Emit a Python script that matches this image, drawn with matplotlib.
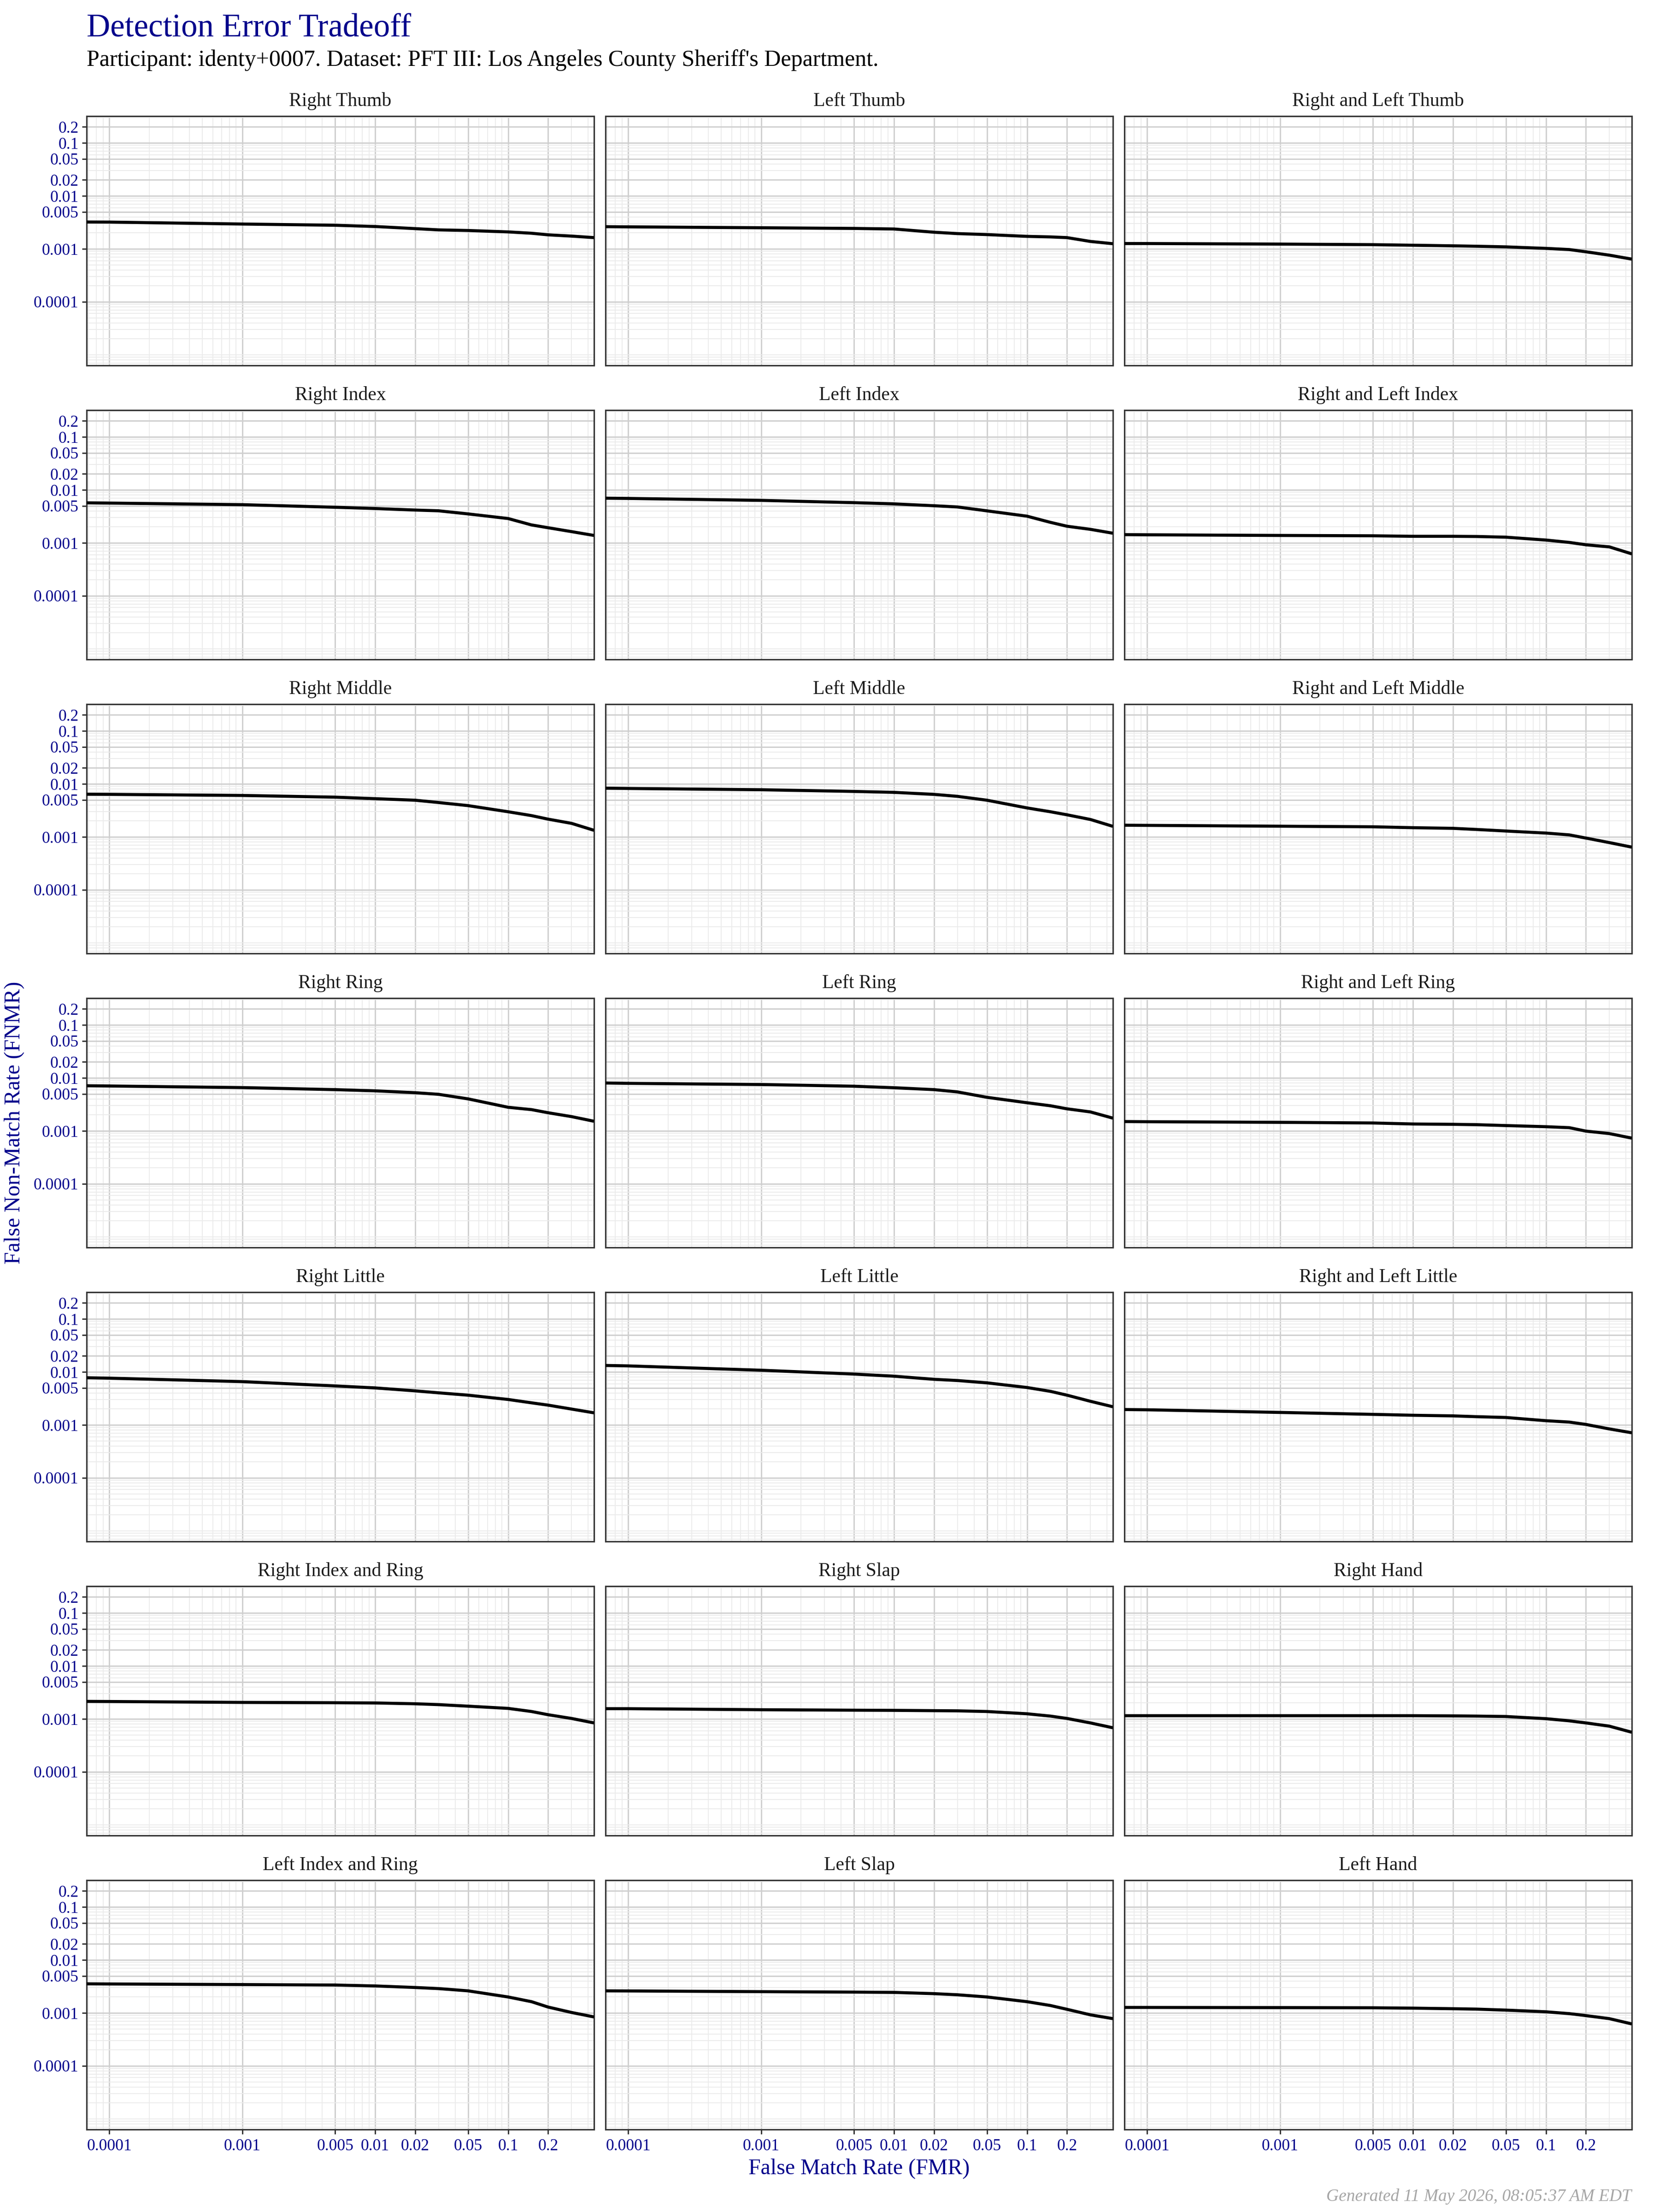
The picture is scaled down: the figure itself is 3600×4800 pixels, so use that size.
import matplotlib
matplotlib.use('Agg')
import matplotlib.pyplot as plt
from matplotlib.ticker import FixedLocator, NullFormatter

plt.rcParams['font.family'] = ['Liberation Serif', 'DejaVu Serif']

# ---------------- data ----------------
FMR = [6.76e-5, 1e-4, 1e-3, 5e-3, 0.01, 0.02, 0.03, 0.05, 0.1, 0.15, 0.2, 0.3, 0.443]

panel_titles = [
    "Right Thumb", "Left Thumb", "Right and Left Thumb",
    "Right Index", "Left Index", "Right and Left Index",
    "Right Middle", "Left Middle", "Right and Left Middle",
    "Right Ring", "Left Ring", "Right and Left Ring",
    "Right Little", "Left Little", "Right and Left Little",
    "Right Index and Ring", "Right Slap", "Right Hand",
    "Left Index and Ring", "Left Slap", "Left Hand",
]

fnmr_right_thumb = [0.00321, 0.00320, 0.00294, 0.00279, 0.00264, 0.00241, 0.00228, 0.00222, 0.00209, 0.00197, 0.00184, 0.00174, 0.00163]
fnmr_left_thumb = [0.00262, 0.00260, 0.00250, 0.00243, 0.00237, 0.00206, 0.00194, 0.00186, 0.00172, 0.00168, 0.00163, 0.00138, 0.00125]
fnmr_rl_thumb = [0.00126, 0.00126, 0.00123, 0.00120, 0.00117, 0.00114, 0.00112, 0.00109, 0.00102, 0.00097, 0.00088, 0.00076, 0.00064]
fnmr_right_index = [0.00570, 0.00563, 0.00526, 0.00470, 0.00445, 0.00416, 0.00403, 0.00352, 0.00288, 0.00218, 0.00193, 0.00163, 0.00138]
fnmr_left_index = [0.00697, 0.00690, 0.00634, 0.00574, 0.00544, 0.00502, 0.00476, 0.00402, 0.00319, 0.00244, 0.00206, 0.00180, 0.00152]
fnmr_rl_index = [0.00143, 0.00142, 0.00138, 0.00136, 0.00133, 0.00133, 0.00132, 0.00128, 0.00113, 0.00102, 0.00092, 0.00084, 0.00062]
fnmr_right_middle = [0.00638, 0.00635, 0.00605, 0.00562, 0.00526, 0.00492, 0.00445, 0.00389, 0.00298, 0.00252, 0.00216, 0.00180, 0.00133]
fnmr_left_middle = [0.00830, 0.00820, 0.00776, 0.00721, 0.00692, 0.00634, 0.00582, 0.00492, 0.00352, 0.00298, 0.00261, 0.00213, 0.00158]
fnmr_rl_middle = [0.00166, 0.00165, 0.00159, 0.00155, 0.00149, 0.00145, 0.00138, 0.00129, 0.00118, 0.00109, 0.00095, 0.00078, 0.00064]
fnmr_right_ring = [0.00711, 0.00704, 0.00656, 0.00601, 0.00570, 0.00526, 0.00490, 0.00402, 0.00279, 0.00252, 0.00220, 0.00186, 0.00152]
fnmr_left_ring = [0.00802, 0.00790, 0.00750, 0.00697, 0.00652, 0.00601, 0.00544, 0.00430, 0.00340, 0.00298, 0.00261, 0.00228, 0.00174]
fnmr_rl_ring = [0.00150, 0.00149, 0.00145, 0.00141, 0.00135, 0.00133, 0.00131, 0.00126, 0.00120, 0.00115, 0.00099, 0.00089, 0.00073]
fnmr_right_little = [0.00776, 0.00762, 0.00656, 0.00544, 0.00499, 0.00439, 0.00403, 0.00364, 0.00302, 0.00261, 0.00236, 0.00199, 0.00169]
fnmr_left_little = [0.01324, 0.01300, 0.01076, 0.00910, 0.00830, 0.00725, 0.00688, 0.00622, 0.00508, 0.00430, 0.00364, 0.00279, 0.00220]
fnmr_rl_little = [0.00195, 0.00193, 0.00172, 0.00158, 0.00152, 0.00148, 0.00143, 0.00138, 0.00120, 0.00113, 0.00102, 0.00084, 0.00071]
fnmr_right_index_ring = [0.00214, 0.00213, 0.00205, 0.00202, 0.00200, 0.00193, 0.00186, 0.00174, 0.00158, 0.00138, 0.00120, 0.00102, 0.00084]
fnmr_right_slap = [0.00156, 0.00156, 0.00149, 0.00146, 0.00145, 0.00143, 0.00142, 0.00138, 0.00125, 0.00113, 0.00102, 0.00084, 0.00068]
fnmr_right_hand = [0.00115, 0.00115, 0.00115, 0.00115, 0.00115, 0.00114, 0.00113, 0.00111, 0.00101, 0.00092, 0.00084, 0.00073, 0.00056]
fnmr_left_index_ring = [0.00354, 0.00352, 0.00343, 0.00336, 0.00323, 0.00302, 0.00288, 0.00261, 0.00200, 0.00163, 0.00129, 0.00102, 0.00084]
fnmr_left_slap = [0.00261, 0.00260, 0.00252, 0.00247, 0.00244, 0.00231, 0.00220, 0.00200, 0.00163, 0.00138, 0.00117, 0.00092, 0.00078]
fnmr_left_hand = [0.00127, 0.00127, 0.00126, 0.00125, 0.00123, 0.00120, 0.00118, 0.00113, 0.00105, 0.00097, 0.00089, 0.00078, 0.00062]

panel_series = [
    fnmr_right_thumb, fnmr_left_thumb, fnmr_rl_thumb,
    fnmr_right_index, fnmr_left_index, fnmr_rl_index,
    fnmr_right_middle, fnmr_left_middle, fnmr_rl_middle,
    fnmr_right_ring, fnmr_left_ring, fnmr_rl_ring,
    fnmr_right_little, fnmr_left_little, fnmr_rl_little,
    fnmr_right_index_ring, fnmr_right_slap, fnmr_right_hand,
    fnmr_left_index_ring, fnmr_left_slap, fnmr_left_hand,
]

x_breaks = [1e-4, 1e-3, 5e-3, 1e-2, 2e-2, 5e-2, 0.1, 0.2]
x_labels = ['0.0001', '0.001', '0.005', '0.01', '0.02', '0.05', '0.1', '0.2']
y_breaks = [1e-4, 1e-3, 5e-3, 1e-2, 2e-2, 5e-2, 0.1, 0.2]
y_labels = ['0.0001', '0.001', '0.005', '0.01', '0.02', '0.05', '0.1', '0.2']

# ---------------- layout ----------------
W, H, DPI = 3600, 4800, 300
fig = plt.figure(figsize=(W / DPI, H / DPI), dpi=DPI)
fig.patch.set_facecolor('white')

col_left = [188, 1314, 2440]
panel_w = 1101
row_top0 = 252
row_pitch = 638
panel_h = 541
XLIM = (6.76e-5, 0.443)
YLIM = (6.3e-6, 0.32)

DARKBLUE = '#00008B'
GRID_MAJ = '#cfcfcf'
GRID_MIN = '#ebebeb'
BORDER = '#333333'


def fx(px):
    return px / W


def fy(py):
    return 1 - py / H


minor_all = [n * 10.0 ** k for k in range(-6, 1) for n in range(1, 10)]
minor_x = [v for v in minor_all if all(abs(v - b) / b > 1e-6 for b in x_breaks)]
minor_y = [v for v in minor_all if all(abs(v - b) / b > 1e-6 for b in y_breaks)]

for i, (title, series) in enumerate(zip(panel_titles, panel_series)):
    r, c = divmod(i, 3)
    left = col_left[c]
    top = row_top0 + r * row_pitch
    ax = fig.add_axes([fx(left), fy(top + panel_h), panel_w / W, panel_h / H])
    ax.set_xscale('log')
    ax.set_yscale('log')
    ax.set_xlim(*XLIM)
    ax.set_ylim(*YLIM)
    ax.set_axisbelow(True)

    ax.xaxis.set_major_locator(FixedLocator(x_breaks))
    ax.yaxis.set_major_locator(FixedLocator(y_breaks))
    ax.xaxis.set_minor_locator(FixedLocator(minor_x))
    ax.yaxis.set_minor_locator(FixedLocator(minor_y))
    ax.xaxis.set_minor_formatter(NullFormatter())
    ax.yaxis.set_minor_formatter(NullFormatter())

    ax.grid(which='minor', color=GRID_MIN, lw=0.45)
    ax.grid(which='major', color=GRID_MAJ, lw=0.7)
    ax.tick_params(which='minor', length=0)

    if c == 0:
        ax.set_yticklabels(y_labels)
        ax.tick_params(axis='y', which='major', length=2.4, width=0.7, color=BORDER,
                       labelcolor=DARKBLUE, labelsize=8.5, pad=1.8)
    else:
        ax.tick_params(axis='y', which='major', length=0, labelleft=False)
    if r == 6:
        ax.set_xticklabels(x_labels)
        ax.tick_params(axis='x', which='major', length=2.4, width=0.7, color=BORDER,
                       labelcolor=DARKBLUE, labelsize=8.5, pad=2.5)
    else:
        ax.tick_params(axis='x', which='major', length=0, labelbottom=False)

    for sp in ax.spines.values():
        sp.set_color(BORDER)
        sp.set_linewidth(0.75)

    ax.plot(FMR, series, color='black', lw=1.6, solid_capstyle='butt', zorder=3)

    fig.text(fx(left + panel_w / 2), fy(top - 22), title, ha='center', va='baseline',
             fontsize=10, color='#1a1a1a')

# ---------------- titles ----------------
fig.text(fx(188), fy(80), "Detection Error Tradeoff", ha='left', va='baseline',
         fontsize=17, color=DARKBLUE)
fig.text(fx(188), fy(143), "Participant: identy+0007. Dataset: PFT III: Los Angeles County Sheriff's Department.",
         ha='left', va='baseline', fontsize=12, color='black')
fig.text(fx(1864), fy(4718), "False Match Rate (FMR)", ha='center', va='baseline',
         fontsize=11.5, color=DARKBLUE)
fig.text(fx(43), fy(2436), "False Non-Match Rate (FNMR)", ha='center', va='baseline',
         rotation=90, rotation_mode='anchor', fontsize=11.5, color=DARKBLUE)
fig.text(fx(3540), fy(4767), "Generated 11 May 2026, 08:05:37 AM EDT", ha='right', va='center',
         fontsize=9, color='#a6a6a6', style='italic')

fig.savefig('out.png', dpi=DPI)
